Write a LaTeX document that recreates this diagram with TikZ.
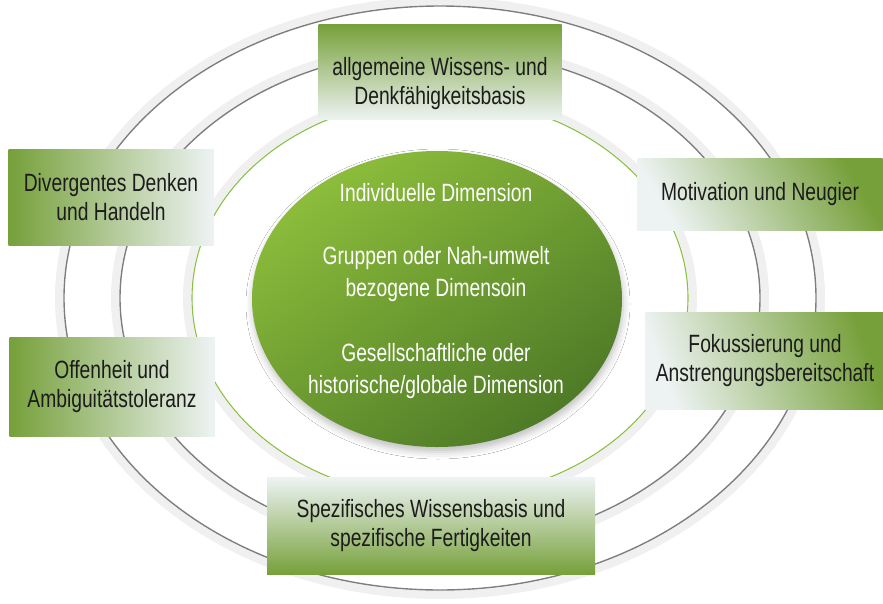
\documentclass[tikz,border=0pt]{standalone}
\usepackage{fontspec}
\usepackage{xcolor}
\usepackage{tikz}
\usetikzlibrary{positioning, shapes.geometric, shadows.blur}
\newfontfamily\diafont{Liberation Sans}[FakeStretch=0.77]
\newcommand\diatext{\diafont\fontsize{25}{29}\selectfont}
\newcommand\coretext{\diafont\fontsize{25}{32}\selectfont}
\definecolor{boxgreen}{HTML}{76A03A}
\definecolor{boxpale}{HTML}{EDF3F3}
\definecolor{corelight}{HTML}{8CBD3B}
\definecolor{coredark}{HTML}{4E7A27}
\definecolor{ringgray}{HTML}{7E7E7E}
\definecolor{ringgreen}{HTML}{8CBF45}
\definecolor{textdark}{HTML}{1C1C1C}

\tikzset{
  ring/.style={draw=ringgray, line width=1.4pt},
  ringglow/.style={draw=black, opacity=0.06, line width=8pt},
  tbox/.style={rectangle, inner sep=0pt, align=center, font=\diatext, text=textdark},
  core/.style={ellipse, inner sep=0pt, align=center, font=\coretext, text=white,
               top color=corelight, bottom color=coredark, shading angle=35,
               blur shadow={shadow xshift=1pt, shadow yshift=-5pt, shadow opacity=25, shadow blur radius=7pt}}
}

\begin{document}
\begin{tikzpicture}[x=1pt, y=-1pt]
  \useasboundingbox[fill=white] (0,0) rectangle (883,603);

  % rings
  \draw[ringglow] (440,298) ellipse [x radius=381, y radius=297];
  \draw[ringglow] (440,298) ellipse [x radius=325, y radius=253];
  \draw[ringglow] (440,298) ellipse [x radius=253, y radius=205];
  \draw[ring] (440,298) ellipse [x radius=376, y radius=292];
  \draw[ring] (440,298) ellipse [x radius=320, y radius=248];
  \draw[ring, draw=ringgreen, line width=1.1pt] (440,298) ellipse [x radius=248, y radius=200];

  % centre
  \node[core, minimum width=370, minimum height=296] (dims) at (437,299) {};
  \node[font=\coretext, text=white, align=center] (dimstext) at (436,291)
    {Individuelle Dimension\\[31pt]
     Gruppen oder Nah-umwelt\\ bezogene Dimensoin\\[33pt]
     Gesellschaftliche oder\\ historische/globale Dimension};

  % boxes
  \node[tbox, minimum width=243, minimum height=95,
        top color=boxgreen, bottom color=boxpale] (base) at (440,72) {};
  \node[tbox] (basetext) at (440,84) {allgemeine Wissens- und\\ Denkfähigkeitsbasis};

  \node[tbox, minimum width=205, minimum height=96,
        top color=boxgreen, bottom color=boxpale, shading angle=90] (diverg) at (111,197)
    {Divergentes Denken\\ und Handeln};

  \node[tbox, minimum width=245, minimum height=72,
        top color=boxgreen, bottom color=boxpale, shading angle=-60] (motiv) at (760,194)
    {Motivation und Neugier};

  \node[tbox, minimum width=240, minimum height=97,
        top color=boxgreen, bottom color=boxpale, shading angle=-70] (fokus) at (765,361)
    {Fokussierung und\\ Anstrengungsbereitschaft};

  \node[tbox, minimum width=205, minimum height=99,
        top color=boxgreen, bottom color=boxpale, shading angle=90] (offen) at (112,387)
    {Offenheit und\\ Ambiguitätstoleranz};

  \node[tbox, minimum width=328, minimum height=97,
        top color=boxpale, bottom color=boxgreen] (spezif) at (431,526)
    {Spezifisches Wissensbasis und\\ spezifische Fertigkeiten};
\end{tikzpicture}
\end{document}
